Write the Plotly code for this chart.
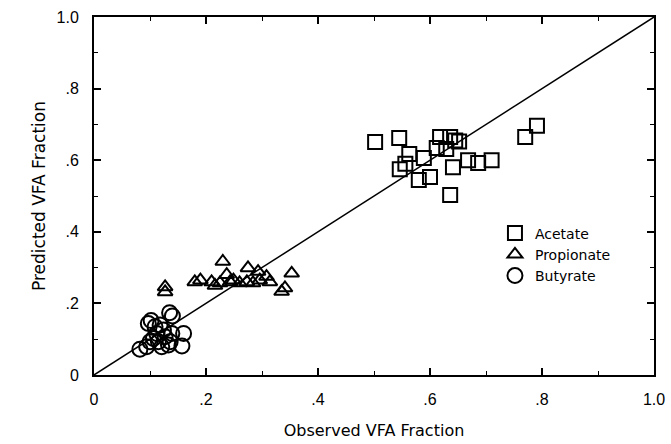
import plotly.graph_objects as go

# Acetate (observed, predicted)
acetate_x = [0.502, 0.545, 0.563, 0.546, 0.556, 0.58, 0.589, 0.60, 0.612, 0.618, 0.629, 0.636,
             0.641, 0.636, 0.645, 0.652, 0.668, 0.686, 0.71, 0.77, 0.791]
acetate_y = [0.651, 0.662, 0.617, 0.575, 0.59, 0.545, 0.606, 0.553, 0.634, 0.665, 0.631, 0.665,
             0.58, 0.503, 0.655, 0.652, 0.60, 0.592, 0.60, 0.665, 0.696]

# Propionate
propionate_x = [0.127, 0.127, 0.18, 0.19, 0.21, 0.216, 0.225, 0.23, 0.237, 0.243, 0.249, 0.26,
                0.275, 0.273, 0.284, 0.293, 0.296, 0.308, 0.314, 0.353, 0.341, 0.335]
propionate_y = [0.246, 0.232, 0.26, 0.265, 0.26, 0.25, 0.257, 0.317, 0.28, 0.26, 0.265, 0.257,
                0.299, 0.26, 0.257, 0.289, 0.265, 0.275, 0.26, 0.284, 0.243, 0.233]

# Butyrate
butyrate_x = [0.082, 0.102, 0.097, 0.135, 0.140, 0.160, 0.157, 0.109, 0.118, 0.124, 0.106, 0.100,
              0.115, 0.127, 0.136, 0.133, 0.121, 0.112, 0.139, 0.094]
butyrate_y = [0.072, 0.152, 0.144, 0.174, 0.165, 0.116, 0.081, 0.135, 0.140, 0.126, 0.102, 0.093,
              0.093, 0.107, 0.093, 0.084, 0.079, 0.116, 0.116, 0.079]

line_x = [0, 1]
line_y = [0, 1]

tick_vals = [0, 0.2, 0.4, 0.6, 0.8, 1.0]
tick_text = ["0", ".2", ".4", ".6", ".8", "1.0"]

fig = go.Figure()
fig.add_trace(go.Scatter(x=line_x, y=line_y, mode="lines", line=dict(color="black", width=1.5),
                         showlegend=False, hoverinfo="skip"))
fig.add_trace(go.Scatter(x=acetate_x, y=acetate_y, mode="markers", name="Acetate",
                         marker=dict(symbol="square-open", size=14, color="black", line=dict(width=2, color="black"))))
fig.add_trace(go.Scatter(x=propionate_x, y=propionate_y, mode="markers", name="Propionate",
                         marker=dict(symbol="triangle-up-open", size=13, color="black", line=dict(width=2, color="black"))))
fig.add_trace(go.Scatter(x=butyrate_x, y=butyrate_y, mode="markers", name="Butyrate",
                         marker=dict(symbol="circle-open", size=15, color="black", line=dict(width=2, color="black"))))

axis_common = dict(range=[0, 1], showgrid=False, zeroline=False, showline=True, linecolor="black",
                   linewidth=2, mirror="ticks", ticks="inside", ticklen=7, tickwidth=1.5, tickcolor="black",
                   tickvals=tick_vals, ticktext=tick_text, automargin=False,
                   minor=dict(dtick=0.1, ticks="inside", ticklen=4, tickwidth=1.2, tickcolor="black"),
                   tickfont=dict(family="Liberation Sans", size=16, color="black"))

fig.update_layout(
    width=671, height=444,
    margin=dict(l=94, r=17, t=17, b=69),
    paper_bgcolor="white", plot_bgcolor="white",
    xaxis=dict(**axis_common, title=dict(text="Observed VFA Fraction", standoff=18,
                                         font=dict(family="DejaVu Sans", size=16, color="black")),
               ticklabelstandoff=9),
    yaxis=dict(**axis_common, title=dict(text="Predicted VFA Fraction", standoff=7,
                                         font=dict(family="DejaVu Sans", size=17, color="black")),
               ticklabelstandoff=10),
    legend=dict(x=0.716, y=0.44, xanchor="left", yanchor="top", bgcolor="rgba(0,0,0,0)",
                font=dict(family="DejaVu Sans", size=14, color="black"), itemwidth=30, tracegroupgap=0),
    showlegend=True,
)

fig.write_html("out.html")
